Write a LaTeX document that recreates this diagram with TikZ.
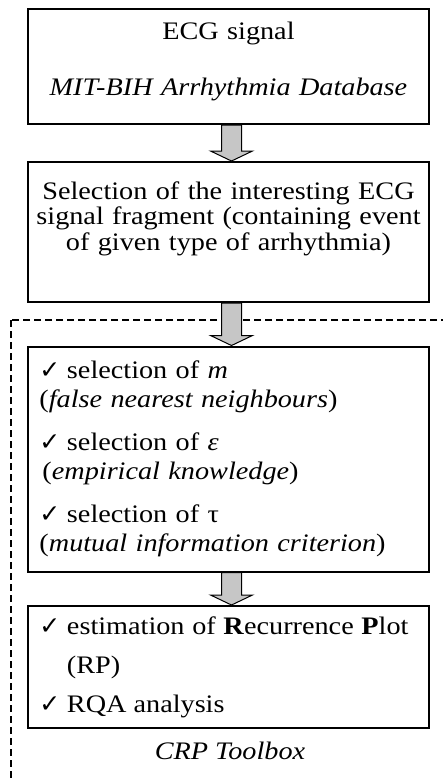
\documentclass[tikz,border=0pt]{standalone}
\usepackage{fontspec}
\setmainfont{Liberation Serif}[FakeStretch=1.12]
\newfontfamily\checkfont{DejaVu Sans}
\usetikzlibrary{calc}

\tikzstyle{stage}=[draw, line width=1pt, rectangle, minimum width=200.5pt, inner sep=0pt]
\tikzstyle{flow}=[draw, line width=0.5pt, fill=gray!45]
\tikzstyle{toolbox}=[line width=0.75pt, dash pattern=on 3.5pt off 2pt]

\newcommand{\okmark}{\makebox[13.75pt][l]{\checkfont\bfseries\fontsize{12.5}{12.5}\selectfont ✓}}
\newcommand{\flowarrow}[2]{%
  \draw[flow] let \p1=($(#1.south)+(1.5pt,0)$), \p2=(#2.north) in
    (\x1-5pt,\y1) -- (\x1+5pt,\y1) -- (\x1+5pt,\y2+5pt) -- (\x1+10.5pt,\y2+5pt)
    -- (\x1,\y2) -- (\x1-10.5pt,\y2+5pt) -- (\x1-5pt,\y2+5pt) -- cycle;}

\begin{document}
\begin{tikzpicture}[x=0.5pt,y=-0.5pt,font=\fontsize{12.6}{12.6}\selectfont]
\clip (0,0) rectangle (443,778);
% dashed frame of the toolbox part
\draw[toolbox] (11,320) rectangle (470,800);

\node[stage, minimum height=57.5pt, text width=190pt, align=center] (ecg) at (228.5,66.5)
  {ECG signal\\[15.4pt]\textit{MIT-BIH Arrhythmia Database}\\[-5pt]\mbox{}};
\node[stage, minimum height=70pt, text width=199pt, align=center] (frag) at (228.5,232)
  {Selection of the interesting ECG\\ signal fragment (containing event\\ of given type of arrhythmia)\\[3.4pt]\mbox{}};
\node[stage, minimum height=112.5pt, text width=189pt, align=left,
      font=\fontsize{12.6}{14.5}\selectfont] (embed) at (228.5,459) {%
  \setlength{\parskip}{7pt}%
  \hangindent=13.75pt\hangafter=1\okmark selection of \textit{m}\\(\textit{false nearest neighbours})\par
  \hangindent=13.75pt\hangafter=1\okmark selection of \textit{ε}\\\hspace*{1.5pt}(\textit{empirical knowledge})\par
  \hangindent=13.75pt\hangafter=1\okmark selection of τ\\(\textit{mutual information criterion})};
\node[stage, minimum height=61pt, text width=189pt, align=justify,
      font=\fontsize{12.6}{19.5}\selectfont] (rqa) at (228.5,667) {%
  \rightskip=4.5pt
  \hangindent=13.75pt\hangafter=1\okmark estimation of \textbf{R}ecurrence \textbf{P}lot\linebreak (RP)\par
  \hangindent=13.75pt\hangafter=1\okmark RQA analysis};
\node[font=\fontsize{12.6}{12.6}\selectfont\itshape] (crp) at (230,751) {CRP Toolbox};

\flowarrow{ecg}{frag}
\flowarrow{frag}{embed}
\flowarrow{embed}{rqa}
\end{tikzpicture}
\end{document}
